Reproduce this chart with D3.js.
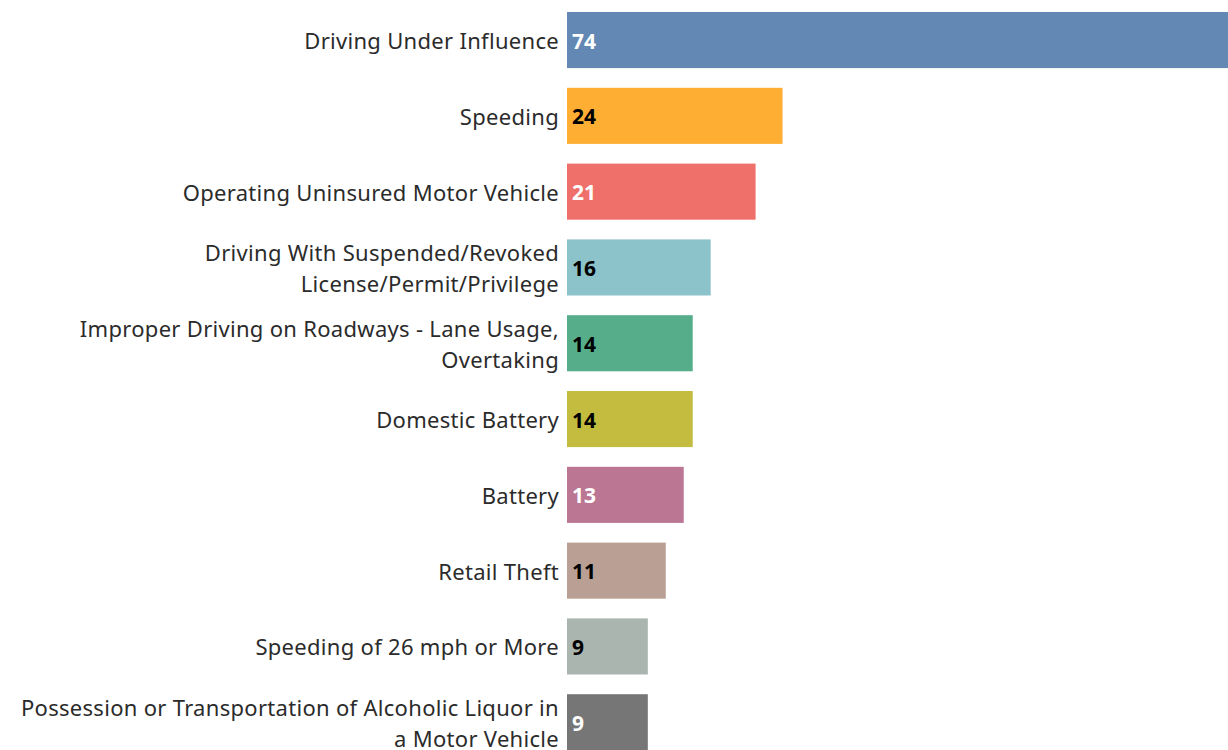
<!DOCTYPE html>
<html>
<head>
    <title>Offense Counts</title>
    <script src="https://d3js.org/d3.v7.min.js"></script>
    <style>
        body { margin: 0; background: #fff; overflow: hidden; }
        .label { font-family: "Noto Sans", sans-serif; font-size: 22px; letter-spacing: 0.3px; fill: #2b2b2b; }
        .value { font-family: "Noto Sans", sans-serif; font-size: 21px; font-weight: bold; }
    </style>
</head>
<body>
    <svg width="1228" height="750"></svg>
    <script>

        // categories (label lines) and values
        const categories = [
            ["Driving Under Influence"],
            ["Speeding"],
            ["Operating Uninsured Motor Vehicle"],
            ["Driving With Suspended/Revoked", "License/Permit/Privilege"],
            ["Improper Driving on Roadways - Lane Usage,", "Overtaking"],
            ["Domestic Battery"],
            ["Battery"],
            ["Retail Theft"],
            ["Speeding of 26 mph or More"],
            ["Possession or Transportation of Alcoholic Liquor in", "a Motor Vehicle"]
        ];
        const values = [74, 24, 21, 16, 14, 14, 13, 11, 9, 9];
        const colors = ["#6388b4", "#ffae34", "#ef6f6a", "#8cc2ca", "#55ad89",
                        "#c3bc3f", "#bb7693", "#baa094", "#a9b5ae", "#767676"];
        const valueColors = ["#fff", "#000", "#fff", "#000", "#000",
                             "#000", "#fff", "#000", "#000", "#fff"];

        const svg = d3.select("svg");
        const names = categories.map(c => c.join(" "));
        const data = names.map((n, i) => ({ name: n, lines: categories[i], value: values[i], i: i }));

        const x = d3.scaleLinear().domain([0, 74]).range([567, 567 + 74 * 8.98]);
        const y = d3.scaleBand().domain(names).range([12, 750.3]).paddingInner(0.26).paddingOuter(0);

        const row = svg.append("g").selectAll("g")
            .data(data)
            .join("g");

        row.append("rect")
            .attr("x", x(0))
            .attr("y", d => y(d.name))
            .attr("width", d => x(d.value) - x(0))
            .attr("height", y.bandwidth())
            .attr("fill", d => colors[d.i]);

        // category labels, right aligned to the left of bars
        row.append("text")
            .attr("class", "label")
            .attr("text-anchor", "end")
            .attr("x", x(0) - 8)
            .attr("y", d => y(d.name) + y.bandwidth() / 2 + 1 - (d.lines.length - 1) * 15.5)
            .each(function(d) {
                d3.select(this).selectAll("tspan")
                    .data(d.lines)
                    .join("tspan")
                    .attr("x", x(0) - 8)
                    .attr("dy", (l, k) => k === 0 ? "0.36em" : "31px")
                    .text(l => l);
            });

        // value labels inside bars
        row.append("text")
            .attr("class", "value")
            .attr("x", x(0) + 5)
            .attr("y", d => y(d.name) + y.bandwidth() / 2 + 1)
            .attr("dy", "0.36em")
            .attr("fill", d => valueColors[d.i])
            .text(d => d.value);

    </script>
</body>
</html>
